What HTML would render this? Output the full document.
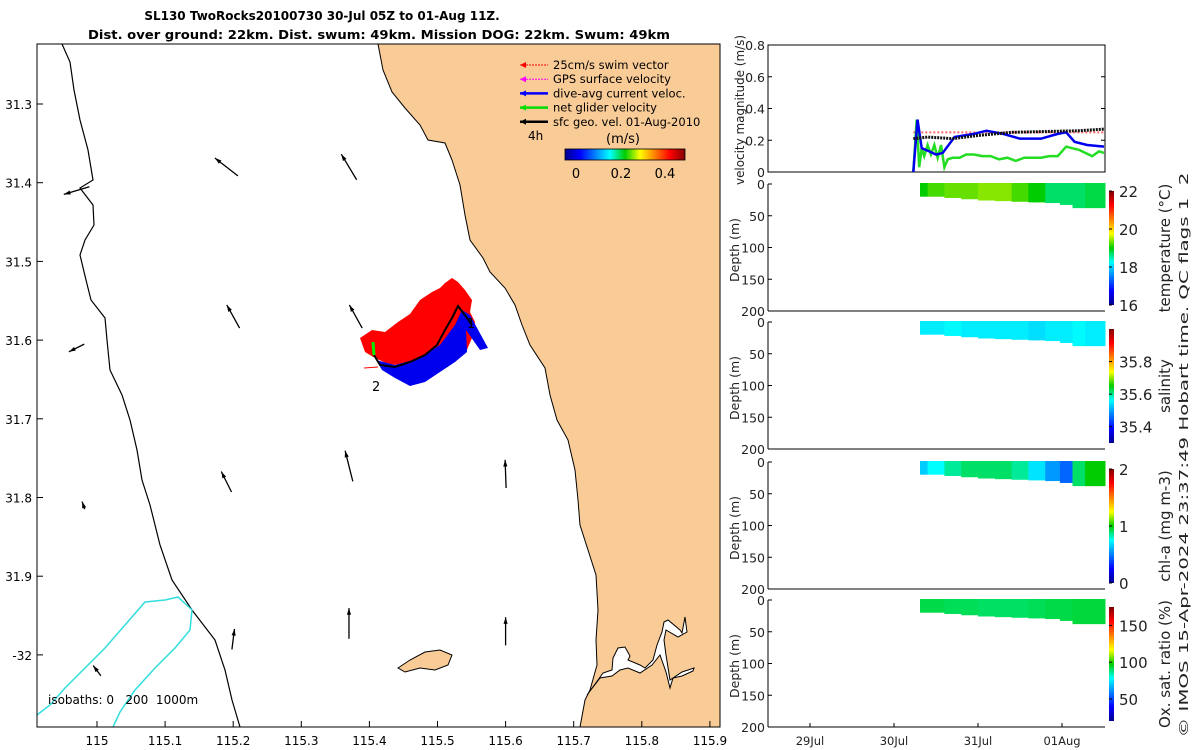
<!DOCTYPE html>
<html><head><meta charset="utf-8">
<style>
html,body{margin:0;padding:0;background:#fff;}
svg{display:block;font-family:"DejaVu Sans","Liberation Sans",sans-serif;}
.pre{white-space:pre;}
</style></head>
<body>
<svg id="fig" width="1200" height="750" viewBox="0 0 1200 750" xmlns="http://www.w3.org/2000/svg">
<defs>
<linearGradient id="jetV" x1="0" y1="1" x2="0" y2="0">
<stop offset="0" stop-color="#00008f"/><stop offset="0.125" stop-color="#0000ff"/><stop offset="0.375" stop-color="#00ffff"/><stop offset="0.5" stop-color="#00cc00"/><stop offset="0.625" stop-color="#ffff00"/><stop offset="0.875" stop-color="#ff0000"/><stop offset="1" stop-color="#800000"/>
</linearGradient>
<linearGradient id="jetH" x1="0" y1="0" x2="1" y2="0">
<stop offset="0" stop-color="#00008f"/><stop offset="0.125" stop-color="#0000ff"/><stop offset="0.375" stop-color="#00ffff"/><stop offset="0.5" stop-color="#00cc00"/><stop offset="0.625" stop-color="#ffff00"/><stop offset="0.875" stop-color="#ff0000"/><stop offset="1" stop-color="#800000"/>
</linearGradient>
</defs>
<g id="map"></g>
<g id="right"></g>
</svg>
<script>
// ---------- data ----------
const lonTicks=[115,115.1,115.2,115.3,115.4,115.5,115.6,115.7,115.8,115.9];
const latTicks=[31.3,31.4,31.5,31.6,31.7,31.8,31.9,32];
const latLabels=["31.3","31.4","31.5","31.6","31.7","31.8","31.9","-32"];
const dayTicks=[29,30,31,32];
const dayLabels=["29Jul","30Jul","31Jul","01Aug"];
const velTicks=[0,0.2,0.4,0.6,0.8];
const depthTicks=[0,50,100,150,200];
// velocity series (time in Jul days, m/s)
const tGreen=[30.23,30.27,30.30,30.33,30.36,30.40,30.44,30.48,30.52,30.56,30.60,30.64,30.70,30.78,30.86,30.95,31.05,31.15,31.25,31.35,31.45,31.55,31.65,31.75,31.85,31.95,32.05,32.12,32.20,32.28,32.36,32.44,32.50];
const vGreen=[0.00,0.33,0.03,0.15,0.10,0.17,0.11,0.17,0.09,0.17,0.03,0.08,0.09,0.09,0.11,0.11,0.10,0.10,0.08,0.09,0.07,0.09,0.09,0.09,0.10,0.10,0.16,0.15,0.14,0.12,0.10,0.13,0.12];
const tBlue=[30.23,30.28,30.33,30.42,30.50,30.58,30.72,30.95,31.10,31.30,31.50,31.75,31.95,32.05,32.15,32.30,32.50];
const vBlue=[0.00,0.33,0.15,0.13,0.11,0.12,0.22,0.24,0.26,0.24,0.21,0.21,0.24,0.25,0.19,0.17,0.16];
const tGeo=[30.23,30.40,30.70,31.00,31.40,31.80,32.20,32.50];
const vGeo=[0.21,0.22,0.21,0.23,0.25,0.255,0.26,0.27];
const tSwim=[30.23,32.50];
const vSwim=[0.25,0.25];
// section profiles: time, bottom depth, value
const tSec=[30.30,30.50,30.70,30.90,31.10,31.30,31.50,31.70,31.90,32.05,32.20,32.35,32.50];
const dBottom=[20,20,22,24,26,27,28,29,30,33,38,38,38];
const temp=[19.0,19.2,19.3,19.3,19.4,19.4,19.2,19.0,18.7,18.7,18.7,18.8,18.8];
const sal=[35.55,35.55,35.56,35.55,35.55,35.55,35.55,35.54,35.55,35.55,35.56,35.55,35.55];
const chl=[0.65,0.75,0.85,0.9,0.9,0.9,0.85,0.7,0.55,0.45,0.9,1.0,1.0];
const oxy=[92,92,91,91,90,90,90,91,92,92,93,93,93];
// map arrows: lon, lat, u, v (relative)
const arrLon=[114.97,115.19,115.37,114.97,115.2,115.38,114.98,115.19,115.37,115.6,115.0,115.2,115.37,115.6];
const arrLat=[31.41,31.38,31.38,31.61,31.57,31.57,31.81,31.78,31.76,31.77,32.02,31.98,31.96,31.97];
const arrU=[-0.5,-0.45,-0.3,-0.3,-0.25,-0.25,-0.05,-0.2,-0.15,-0.02,-0.15,0.05,0.0,0.0];
const arrV=[-0.15,0.35,0.5,-0.15,0.45,0.45,0.15,0.4,0.6,0.55,0.2,0.4,0.6,0.55];

// ---------- helpers ----------
const NS="http://www.w3.org/2000/svg";
function mk(parent,tag,attrs,txt){const e=document.createElementNS(NS,tag);for(const k in attrs)e.setAttribute(k,attrs[k]);if(txt!==undefined)e.textContent=txt;parent.appendChild(e);return e;}
function jet(f){f=Math.max(0,Math.min(1,f));const st=[[0,0,0,143],[0.125,0,0,255],[0.375,0,255,255],[0.5,0,204,0],[0.625,255,255,0],[0.875,255,0,0],[1,128,0,0]];for(let i=1;i<st.length;i++){if(f<=st[i][0]){const a=st[i-1],b=st[i],r=(f-a[0])/(b[0]-a[0]);return `rgb(${Math.round(a[1]+r*(b[1]-a[1]))},${Math.round(a[2]+r*(b[2]-a[2]))},${Math.round(a[3]+r*(b[3]-a[3]))})`;}}return "#800000";}

// ---------- map ----------
const map=document.getElementById('map');
const lonX=l=>97+(l-115)*681;
const latY=l=>104+(l-31.3)*787;
mk(map,'rect',{x:37,y:44,width:683,height:683,fill:'#fff'});
let land=mk(map,'path',{d:'M378,44 L383,70 L392,92 L405,108 L420,125 L428,140 L445,143 L452,160 L460,185 L465,215 L470,240 L483,258 L490,272 L505,288 L515,305 L522,325 L530,345 L545,368 L550,395 L557,420 L568,440 L575,470 L578,500 L580,525 L588,550 L596,575 L598,610 L596,640 L597,665 L590,690 L585,700 L580,727 L720,727 L720,44 Z',fill:'#f9cb97',stroke:'#000','stroke-width':1});

let isl=mk(map,'path',{d:'M398,668 L410,660 L425,652 L440,650 L452,655 L448,665 L435,670 L420,668 L405,672 Z',fill:'#f9cb97',stroke:'#000','stroke-width':1});

let est=mk(map,'path',{d:'M587,695 L598,680 L603,673 L612,670 L613,658 L618,648 L625,647 L630,656 L628,660 L640,665 L645,668 L653,660 L657,645 L662,632 L664,622 L668,620 L680,630 L682,633 L685,617 L687,632 L678,637 L666,630 L664,640 L666,655 L670,680 L682,672 L694,668 L693,671 L682,676 L673,678 L670,688 L666,672 L660,655 L652,665 L640,673 L628,668 L620,670 L612,676 L600,678 Z',fill:'#fff',stroke:'#000','stroke-width':1});

let lc=mk(map,'path',{d:'M62,44 L70,62 L74,90 L80,120 L88,150 L93,180 L80,188 L93,205 L94,225 L85,240 L80,255 L86,280 L91,300 L105,318 L107,340 L110,370 L122,395 L130,420 L137,450 L142,480 L150,505 L160,545 L172,580 L192,610 L215,640 L225,670 L232,700 L240,727',fill:'none',stroke:'#000','stroke-width':1.2});

let iso=mk(map,'path',{d:'M37,715 L50,705 L65,688 L85,668 L105,648 L125,625 L145,602 L165,600 L178,597 L192,610 L190,630 L175,648 L155,668 L135,690 L120,712 L113,727',fill:'none',stroke:'#33dddd','stroke-width':1.5});

// glider track
let ra=mk(map,'path',{d:'M360,338 L372,330 L385,332 L398,322 L410,314 L420,300 L432,292 L440,288 L445,283 L452,278 L458,282 L465,290 L472,300 L470,312 L475,322 L472,338 L466,352 L455,345 L445,350 L435,355 L420,360 L405,364 L390,365 L375,358 L365,352 Z',fill:'#ff0000'});

let ba=mk(map,'path',{d:'M376,360 L395,365 L420,358 L440,345 L455,325 L462,310 L470,315 L488,348 L480,350 L466,330 L467,352 L455,362 L440,372 L425,382 L410,386 L395,378 L382,370 Z',fill:'#0000ee'});

let trk=mk(map,'path',{d:'M374,355 L380,365 L395,367 L410,362 L425,355 L437,345 L445,330 L452,318 L458,306 L467,318 L472,325',fill:'none',stroke:'#000','stroke-width':2});

mk(map,'line',{x1:373,y1:342,x2:374,y2:355,stroke:'#00ee00','stroke-width':3});
let lab2=mk(map,'text',{x:372,y:391,'font-size':13},'2');
mk(map,'text',{x:467,y:328,'font-size':13},'1');
mk(map,'line',{x1:378,y1:367,x2:364,y2:368,stroke:'#ff0000','stroke-width':1});
// arrows
for(let i=0;i<arrLon.length;i++){
  const x=lonX(arrLon[i]),y=latY(arrLat[i]);
  const L=32,m=Math.hypot(arrU[i],arrV[i]);const dx=arrU[i]/m*L*Math.min(1,m*1.6),dy=-arrV[i]/m*L*Math.min(1,m*1.6);
  const x2=x+dx/2,y2=y+dy/2,x1=x-dx/2,y1=y-dy/2;const ang=Math.atan2(y2-y1,x2-x1);
  const g=mk(map,'g',{});
  
  
  mk(g,'line',{x1:x1,y1:y1,x2:x2,y2:y2,stroke:'#000','stroke-width':1.3});
  const h=7;mk(g,'polygon',{points:`${x2},${y2} ${x2-h*Math.cos(ang-0.3)},${y2-h*Math.sin(ang-0.3)} ${x2-h*Math.cos(ang+0.3)},${y2-h*Math.sin(ang+0.3)}`,fill:'#000'});
}
// frame & ticks
mk(map,'rect',{x:37,y:44,width:683,height:683,fill:'none',stroke:'#000','stroke-width':1});
lonTicks.forEach(l=>{const x=lonX(l);mk(map,'line',{x1:x,y1:727,x2:x,y2:721,stroke:'#000'});const t=mk(map,'text',{x:x,y:745,'font-size':12,'text-anchor':'middle'},String(l));});
latTicks.forEach((l,i)=>{const y=latY(l);mk(map,'line',{x1:37,y1:y,x2:43,y2:y,stroke:'#000'});const t=mk(map,'text',{x:32,y:y+5,'font-size':12,'text-anchor':'end'},latLabels[i]);});
let iso_t=mk(map,'text',{x:48,y:704,'font-size':12,'class':'pre'},'isobaths: 0   200  1000m');
// title
let t1=mk(map,'text',{x:322,y:20,'font-size':12,'font-weight':'bold','text-anchor':'middle'},'SL130 TwoRocks20100730 30-Jul 05Z to 01-Aug 11Z.');
let t2=mk(map,'text',{x:88,y:39,'font-size':12,'font-weight':'bold','textLength':582,'lengthAdjust':'spacingAndGlyphs'},'Dist. over ground: 22km. Dist. swum: 49km. Mission DOG: 22km. Swum: 49km');
// legend
const legCol=['#ff0000','#ff00ff','#0000ff','#00dd00','#000'];
const legTxt=['25cm/s swim vector','GPS surface velocity','dive-avg current veloc.','net glider velocity','sfc geo. vel. 01-Aug-2010'];
legTxt.forEach((s,i)=>{const y=65+i*14.2;const g=mk(map,'g',{});
 mk(g,'line',{x1:520,y1:y,x2:548,y2:y,stroke:legCol[i],'stroke-width':i>=2?2.5:1,'stroke-dasharray':i<2?'2,1':''});
 mk(g,'polygon',{points:`${520},${y} ${526},${y-3} ${526},${y+3}`,fill:legCol[i]});
 mk(g,'text',{x:553,y:y+4,'font-size':11.5},s);});
mk(map,'text',{x:528,y:140,'font-size':12},'4h');
mk(map,'text',{x:606,y:143,'font-size':13},'(m/s)');
let cb=mk(map,'rect',{x:565,y:149,width:120,height:11,fill:'url(#jetH)',stroke:'#000','stroke-width':0.8});
[[576,'0'],[621,'0.2'],[665,'0.4']].forEach(a=>{mk(map,'text',{x:a[0],y:178,'font-size':13,'text-anchor':'middle'},a[1]);});

// ---------- right panels ----------
const R=document.getElementById('right');
const X0=768,X1=1105;
const tx=d=>894+(d-30)*84;
const vy=v=>172-v*158.75;
// velocity panel
mk(R,'rect',{x:X0,y:45,width:X1-X0,height:127,fill:'none',stroke:'#000'});
velTicks.forEach(v=>{const y=vy(v);mk(R,'line',{x1:X0,y1:y,x2:X0+4,y2:y,stroke:'#000'});mk(R,'line',{x1:X1,y1:y,x2:X1-4,y2:y,stroke:'#000'});const t=mk(R,'text',{x:X0-3,y:y+5,'font-size':12.5,'text-anchor':'end',fill:'#222'},String(v));});
let vl=mk(R,'text',{transform:'translate(744,110) rotate(-90)','font-size':12.5,'text-anchor':'middle',fill:'#222','textLength':150,'lengthAdjust':'spacingAndGlyphs'},'velocity magnitude (m/s)');
function line(ts,vs,col,w,dash,name){const p=mk(R,'polyline',{points:ts.map((t,i)=>tx(t)+','+vy(vs[i])).join(' '),fill:'none',stroke:col,'stroke-width':w,'stroke-dasharray':dash||''});}
line(tSwim,vSwim,'#ff6666',2,'2,2','swim-speed-line');
line(tGreen,vGreen,'#22dd22',2.5,'','net-glider-velocity-line');
line(tBlue,vBlue,'#0000ee',2.5,'','current-velocity-line');
line(tGeo,vGeo,'#111',3,'2,1','geostrophic-velocity-line');
// section panels
const panels=[{top:184,vals:temp,min:16,max:22,ticks:[16,18,20,22],lab:'temperature (°C)',name:'temperature'},
 {top:322,vals:sal,min:35.3,max:36.0,ticks:[35.4,35.6,35.8],lab:'salinity',name:'salinity'},
 {top:462,vals:chl,min:0,max:2,ticks:[0,1,2],lab:'chl-a (mg m-3)',name:'chlorophyll'},
 {top:600,vals:oxy,min:20,max:175,ticks:[50,100,150],lab:'Ox. sat. ratio (%)',name:'oxygen'}];
panels.forEach(P=>{
  const H=127,dy=d=>P.top+d/200*H;
  const g=mk(R,'g',{});
  for(let i=0;i<tSec.length;i++){
    const xa=i===0?920:(tx(tSec[i-1])+tx(tSec[i]))/2, xb=i===tSec.length-1?X1:(tx(tSec[i])+tx(tSec[i+1]))/2;
    const r=mk(g,'rect',{x:xa,y:dy(0)-1,width:xb-xa+0.5,height:dy(dBottom[i])-dy(0)+1,fill:jet((P.vals[i]-P.min)/(P.max-P.min))});
    
    
  }
  mk(g,'line',{x1:X0,y1:P.top,x2:X0,y2:P.top+H,stroke:'#000'});
  mk(g,'line',{x1:X0,y1:P.top+H,x2:X1,y2:P.top+H,stroke:'#000'});
  depthTicks.forEach(d=>{const y=dy(d);mk(g,'line',{x1:X0,y1:y,x2:X0+4,y2:y,stroke:'#000'});mk(g,'text',{x:X0-3,y:y+5,'font-size':12.5,'text-anchor':'end',fill:'#222'},String(d));});
  mk(g,'text',{transform:`translate(739,${P.top+66}) rotate(-90)`,'font-size':12.5,'text-anchor':'middle',fill:'#222'},'Depth (m)');
  // colorbar
  const cy0=P.top+7,cy1=P.top+121;
  mk(g,'rect',{x:1109,y:cy0,width:5,height:cy1-cy0,fill:'url(#jetV)'});
  P.ticks.forEach(v=>{const y=cy1-(v-P.min)/(P.max-P.min)*(cy1-cy0);mk(g,'line',{x1:1109,y1:y,x2:1112,y2:y,stroke:'#000'});mk(g,'text',{x:1119,y:y+6,'font-size':15,fill:'#222'},String(v));});
  mk(g,'text',{transform:`translate(1170,${P.top+64}) rotate(-90)`,'font-size':15,'text-anchor':'middle',fill:'#222'},P.lab);
});
dayTicks.forEach((d,i)=>{const x=tx(d);mk(R,'line',{x1:x,y1:727,x2:x,y2:723,stroke:'#000'});const t=mk(R,'text',{x:x,y:745,'font-size':11.5,'text-anchor':'middle',fill:'#222'},dayLabels[i]);});
let cr=mk(R,'text',{transform:'translate(1188,455) rotate(-90)','font-size':12,'text-anchor':'middle',fill:'#222','class':'pre','textLength':565,'lengthAdjust':'spacingAndGlyphs'},'© IMOS 15-Apr-2024 23:37:49 Hobart time. QC flags 1  2');
</script>
</body></html>
